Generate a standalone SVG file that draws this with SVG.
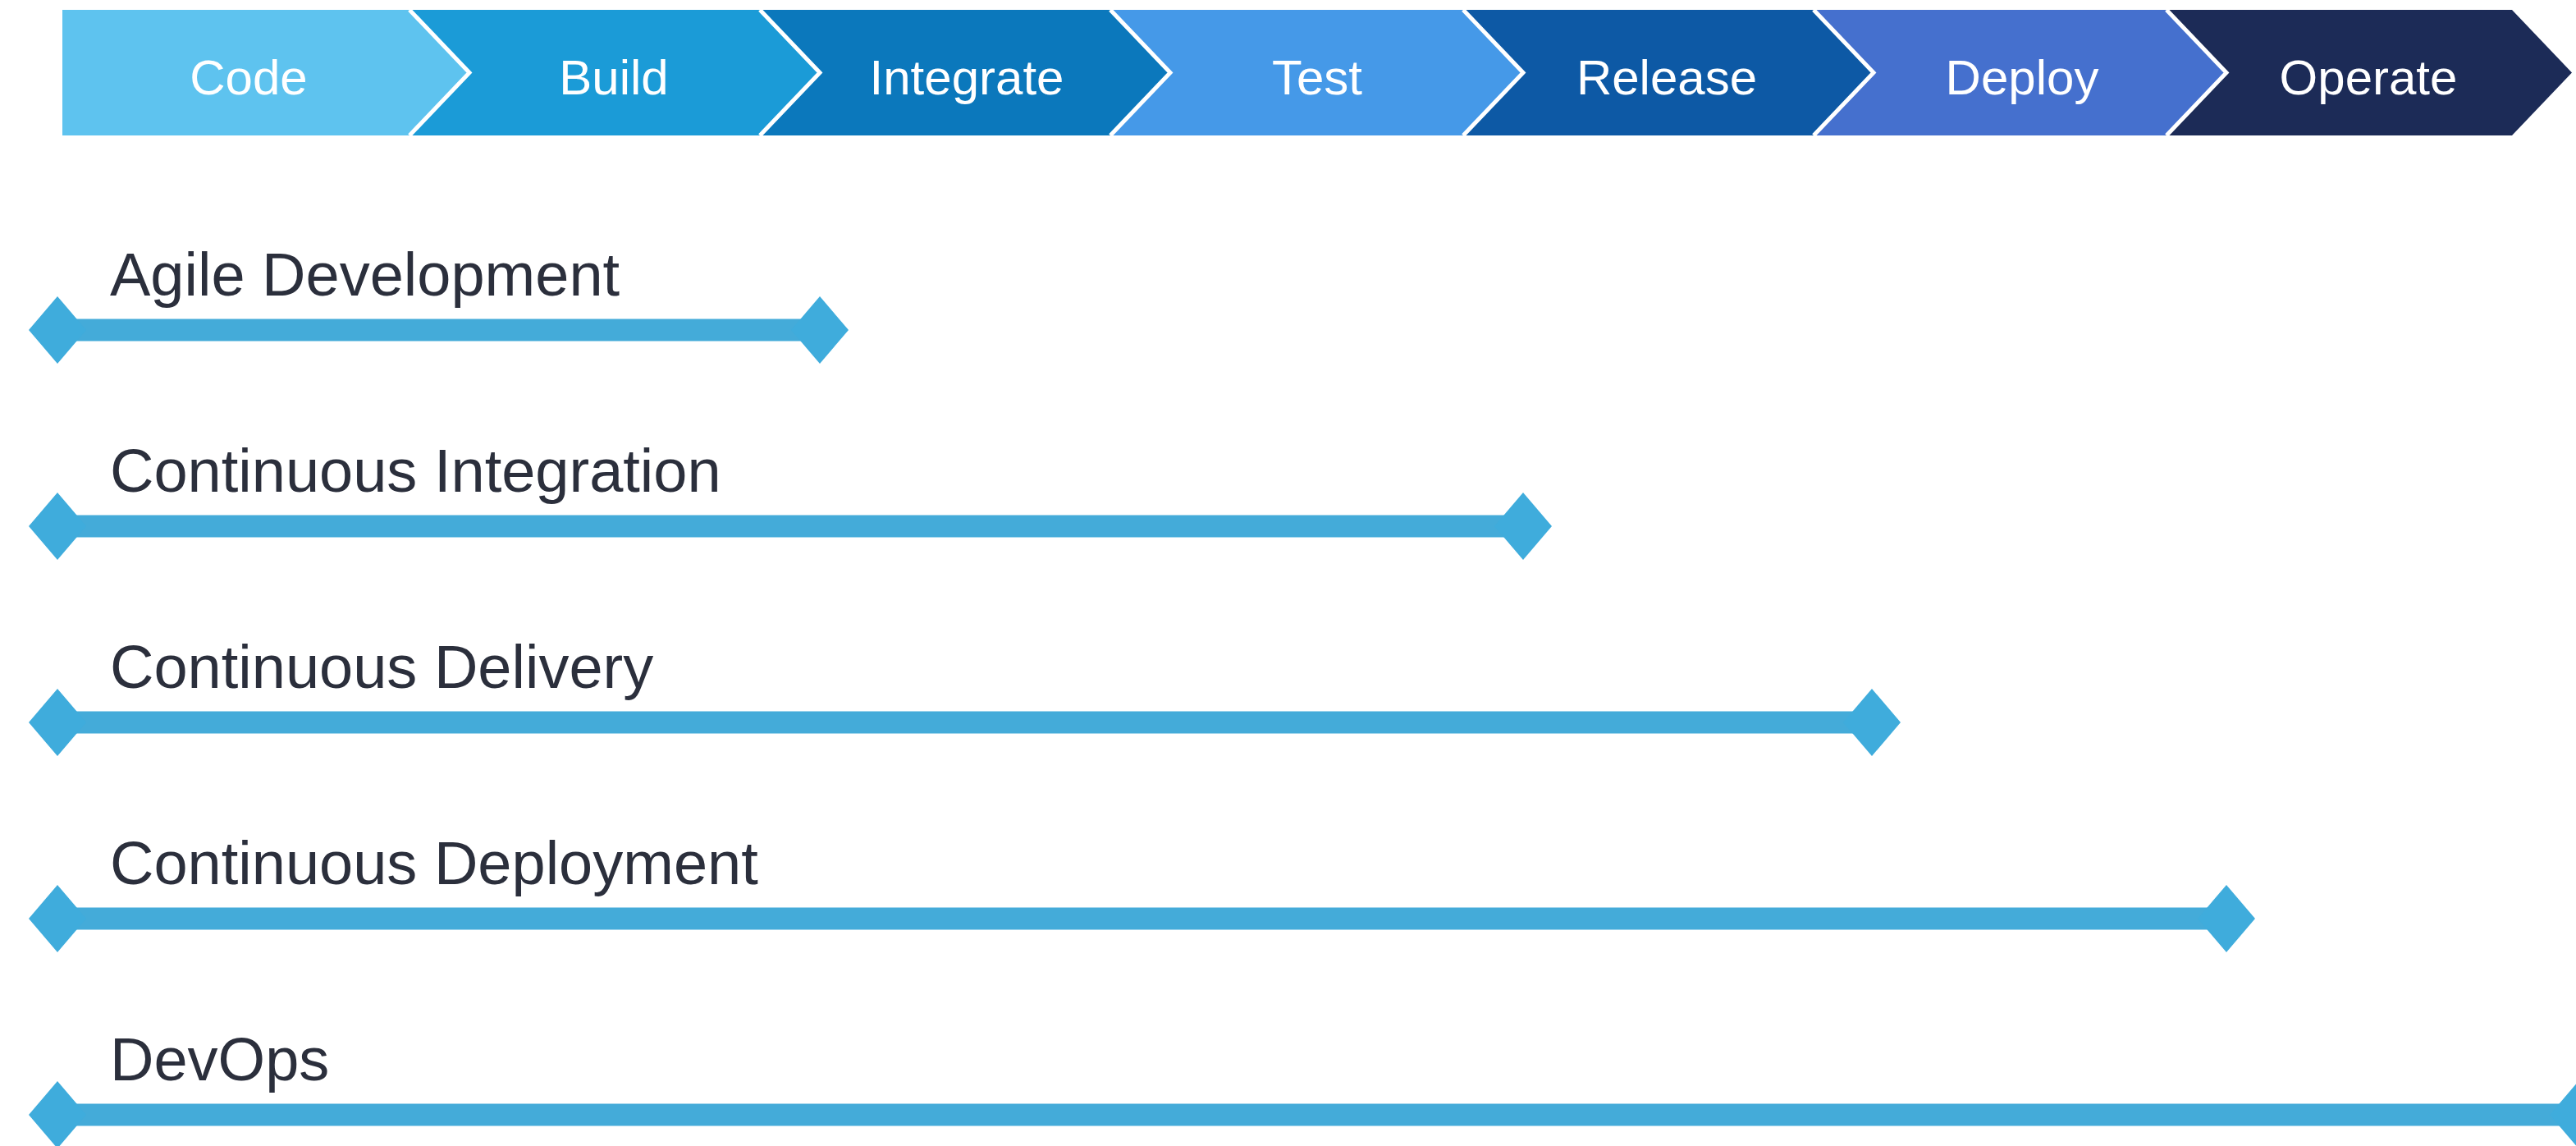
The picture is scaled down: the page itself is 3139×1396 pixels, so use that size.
<svg xmlns="http://www.w3.org/2000/svg" width="3139" height="1396" viewBox="0 0 3139 1396">
  <style>
    .stage-text { font-family: "Liberation Sans", Arial, sans-serif; font-size: 60px; fill: #FFFFFF; text-anchor: middle; }
    .sep { fill: none; stroke: #FFFFFF; stroke-width: 5; stroke-linejoin: miter; }
    .label { font-family: "Liberation Sans", Arial, sans-serif; font-size: 74px; fill: #2B2F3C; }
    .bar { stroke: #44ABD9; stroke-width: 27; fill: none; }
  </style>
  <defs>
    <marker id="dia" viewBox="-36 -42 72 84" markerWidth="72" markerHeight="84" refX="0" refY="0" markerUnits="userSpaceOnUse" orient="auto">
      <path d="M-35,0 L0,-41 L35,0 L0,41 Z" fill="#3FACDC"/>
    </marker>
  </defs>
  <rect width="3139" height="1396" fill="#FFFFFF"/>

  <g id="stage-code">
    <polygon points="76,12 499,12 572,88.5 499,165 76,165" fill="#5EC3EF"/>
    <text class="stage-text" x="303" y="115">Code</text>
  </g>
  <g id="stage-build">
    <polygon points="499,12 926,12 999,88.5 926,165 499,165 572,88.5" fill="#1B9BD7"/>
    <text class="stage-text" x="748" y="115">Build</text>
  </g>
  <g id="stage-integrate">
    <polygon points="926,12 1353,12 1426,88.5 1353,165 926,165 999,88.5" fill="#0B78BC"/>
    <text class="stage-text" x="1178" y="115">Integrate</text>
  </g>
  <g id="stage-test">
    <polygon points="1353,12 1783,12 1856,88.5 1783,165 1353,165 1426,88.5" fill="#4599E8"/>
    <text class="stage-text" x="1605" y="115">Test</text>
  </g>
  <g id="stage-release">
    <polygon points="1783,12 2210,12 2283,88.5 2210,165 1783,165 1856,88.5" fill="#0D59A5"/>
    <text class="stage-text" x="2031" y="115">Release</text>
  </g>
  <g id="stage-deploy">
    <polygon points="2210,12 2640,12 2713,88.5 2640,165 2210,165 2283,88.5" fill="#4570CE"/>
    <text class="stage-text" x="2464" y="115">Deploy</text>
  </g>
  <g id="stage-operate">
    <polygon points="2640,12 3061,12 3134,88.5 3061,165 2640,165 2713,88.5" fill="#1C2B57"/>
    <text class="stage-text" x="2886" y="115">Operate</text>
  </g>
  <g id="separators">
    <polyline class="sep" points="499,12 572,88.5 499,165"/>
    <polyline class="sep" points="926,12 999,88.5 926,165"/>
    <polyline class="sep" points="1353,12 1426,88.5 1353,165"/>
    <polyline class="sep" points="1783,12 1856,88.5 1783,165"/>
    <polyline class="sep" points="2210,12 2283,88.5 2210,165"/>
    <polyline class="sep" points="2640,12 2713,88.5 2640,165"/>
  </g>

  <g id="label-agile"><text class="label" x="134" y="360">Agile Development</text></g>
  <g id="label-ci"><text class="label" x="134" y="599">Continuous Integration</text></g>
  <g id="label-cdelivery"><text class="label" x="134" y="838">Continuous Delivery</text></g>
  <g id="label-cdeployment"><text class="label" x="134" y="1077">Continuous Deployment</text></g>
  <g id="label-devops"><text class="label" x="134" y="1316">DevOps</text></g>

  <g id="connectors">
    <line class="bar" x1="70" y1="402" x2="999" y2="402" marker-start="url(#dia)" marker-end="url(#dia)"/>
    <line class="bar" x1="70" y1="641" x2="1856" y2="641" marker-start="url(#dia)" marker-end="url(#dia)"/>
    <line class="bar" x1="70" y1="880" x2="2281" y2="880" marker-start="url(#dia)" marker-end="url(#dia)"/>
    <line class="bar" x1="70" y1="1119" x2="2713" y2="1119" marker-start="url(#dia)" marker-end="url(#dia)"/>
    <line class="bar" x1="70" y1="1358" x2="3142" y2="1358" marker-start="url(#dia)" marker-end="url(#dia)"/>
  </g>
</svg>
